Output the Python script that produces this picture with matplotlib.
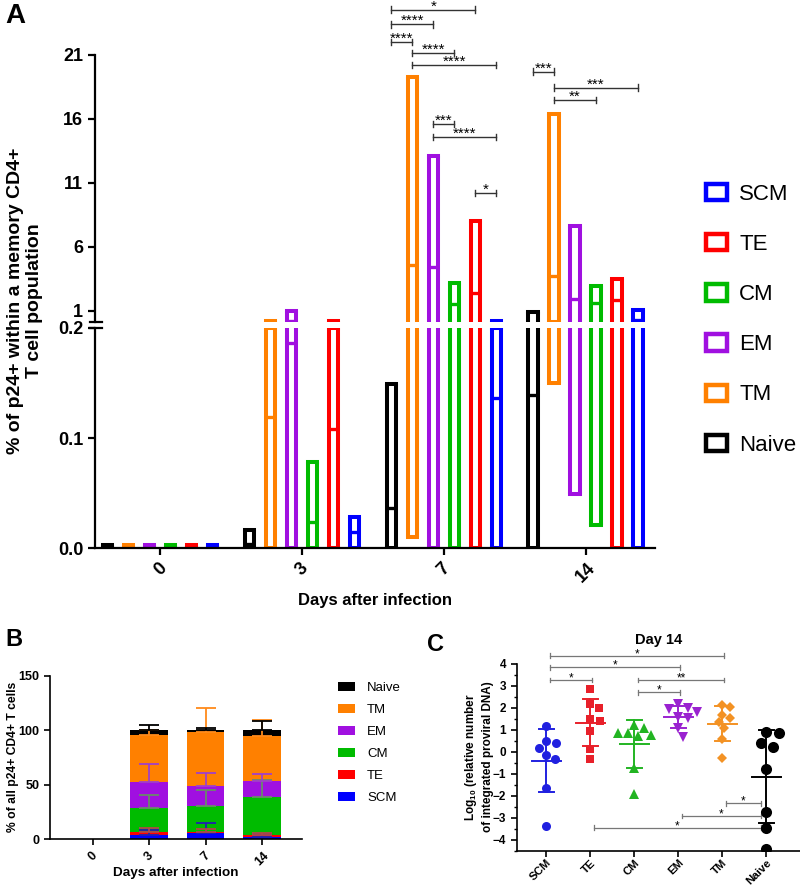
import numpy as np
import matplotlib
matplotlib.use('Agg')
import matplotlib.pyplot as plt
from matplotlib.patches import Patch

plt.rcParams['font.family'] = ['Liberation Sans', 'DejaVu Sans']
plt.rcParams['font.weight'] = 'bold'
plt.rcParams['axes.labelweight'] = 'bold'
plt.rcParams['mathtext.fontset'] = 'custom'
plt.rcParams['mathtext.rm'] = 'Liberation Sans'
plt.rcParams['mathtext.bf'] = 'Liberation Sans:bold'

# ------------------------------------------------------------------ data
days = ['0', '3', '7', '14']
subsets = ['Naive', 'TM', 'EM', 'CM', 'TE', 'SCM']
legend_A = ['SCM', 'TE', 'CM', 'EM', 'TM', 'Naive']

# Panel A: floating bars (min to max) with line at mean, per day
naive_min = [0, 0, 0, 0]
naive_max = [0.003, 0.016, 0.149, 0.9]
naive_mean = [0.0015, 0.004, 0.036, 0.139]
tm_min = [0, 0, 0.010, 0.150]
tm_max = [0.003, 0.2, 19.3, 16.4]
tm_mean = [0.0015, 0.119, 4.6, 3.7]
em_min = [0, 0, 0, 0.049]
em_max = [0.003, 0.95, 13.1, 7.6]
em_mean = [0.0015, 0.186, 4.4, 1.9]
cm_min = [0, 0, 0, 0.021]
cm_max = [0.003, 0.078, 3.2, 2.95]
cm_mean = [0.0015, 0.024, 1.5, 1.6]
te_min = [0, 0, 0, 0]
te_max = [0.003, 0.2, 8.0, 3.45]
te_mean = [0.0015, 0.108, 2.4, 1.85]
scm_min = [0, 0, 0, 0]
scm_max = [0.003, 0.028, 0.2, 1.05]
scm_mean = [0.0015, 0.0145, 0.136, 0.3]

# significance brackets panel A: (day index, subset a, subset b, level, label)
sig_A = [
    (2, 'Naive', 'TE', 24.55, '*'),
    (2, 'Naive', 'EM', 23.4, '****'),
    (2, 'Naive', 'TM', 22.0, '****'),
    (2, 'TM', 'CM', 21.16, '****'),
    (2, 'TM', 'SCM', 20.2, '****'),
    (2, 'EM', 'CM', 15.6, '***'),
    (2, 'EM', 'SCM', 14.6, '****'),
    (2, 'TE', 'SCM', 10.2, '*'),
    (3, 'Naive', 'TM', 19.7, '***'),
    (3, 'TM', 'SCM', 18.45, '***'),
    (3, 'TM', 'CM', 17.46, '**'),
]

# Panel B: stacked composition (% of all p24+ CD4+ T cells)
b_stack = ['SCM', 'TE', 'CM', 'EM', 'TM', 'Naive']
b_scm = [0, 3.7, 5.5, 1.8]
b_te = [0, 3.3, 1.5, 1.9]
b_cm = [0, 21.6, 23.8, 34.8]
b_em = [0, 23.7, 18.4, 15.3]
b_tm = [0, 43.1, 49.3, 41.0]
b_naive = [0, 4.6, 1.5, 5.2]
b_scm_err = [0, 4.9, 9.3, 2.8]
b_te_err = [0, 3.8, 2.2, 2.5]
b_cm_err = [0, 11.7, 14.2, 16.0]
b_em_err = [0, 16.6, 11.4, 6.5]
b_tm_err = [0, 4.9, 22.5, 15.2]
b_naive_err = [0, 4.6, 2.5, 8.6]

# Panel C: log10 relative integrated proviral DNA, day 14
c_groups = ['SCM', 'TE', 'CM', 'EM', 'TM', 'Naive']
c_scm = [1.17, 0.50, 0.41, 0.18, -0.15, -0.35, -1.65, -3.36]
c_te = [2.83, 2.15, 2.00, 1.48, 1.41, 0.95, 0.11, -0.35]
c_cm = [1.23, 1.08, 0.86, 0.86, 0.77, 0.70, -0.76, -1.92]
c_em = [2.15, 2.00, 1.92, 1.80, 1.56, 1.52, 1.06, 0.65]
c_tm = [2.12, 2.05, 1.67, 1.55, 1.36, 1.09, 0.58, -0.27]
c_naive = [0.91, 0.83, 0.41, 0.23, -0.80, -2.76, -3.48, -4.44]
# brackets panel C: (group a, group b, level, label)
sig_C = [
    (0, 4, 4.37, '*'),
    (0, 3, 3.83, '*'),
    (0, 1, 3.26, '*'),
    (2, 4, 3.26, '**'),
    (2, 3, 2.70, '*'),
    (4, 5, -2.35, '*'),
    (3, 5, -2.92, '*'),
    (1, 5, -3.45, '*'),
]

# ------------------------------------------------------------------ styles
colA = {'Naive': '#000000', 'TM': '#FF8000', 'EM': '#A010E0',
        'CM': '#00BB00', 'TE': '#FF0000', 'SCM': '#0000FF'}
errB = {'Naive': '#000000', 'TM': '#FF8A1A', 'EM': '#A040C8',
        'CM': '#6A8A6A', 'TE': '#B04848', 'SCM': '#2020B0'}
colC = {'SCM': '#2020E0', 'TE': '#E8202A', 'CM': '#22B422',
        'EM': '#9A22D0', 'TM': '#F39224', 'Naive': '#000000'}
markC = {'SCM': 'o', 'TE': 's', 'CM': '^', 'EM': 'v', 'TM': 'D', 'Naive': 'o'}
msC = {'SCM': 6.5, 'TE': 6, 'CM': 6.5, 'EM': 6.5, 'TM': 5, 'Naive': 8}

W, H = 800, 888
fig = plt.figure(figsize=(W / 100, H / 100), dpi=100)


def fa(x0, y0, x1, y1):
    return [x0 / W, 1 - y1 / H, (x1 - x0) / W, (y1 - y0) / H]


# ------------------------------------------------------------------ panel A
axT = fig.add_axes(fa(95, 55, 655, 321.6))
axB = fig.add_axes(fa(95, 328, 655, 548))

A_min = dict(Naive=naive_min, TM=tm_min, EM=em_min, CM=cm_min, TE=te_min, SCM=scm_min)
A_max = dict(Naive=naive_max, TM=tm_max, EM=em_max, CM=cm_max, TE=te_max, SCM=scm_max)
A_mean = dict(Naive=naive_mean, TM=tm_mean, EM=em_mean, CM=cm_mean, TE=te_mean, SCM=scm_mean)

pitch = 0.148
bw = 0.066
LW = 2.9
xg = np.arange(len(days))


def xpos(i, s):
    return xg[i] + (subsets.index(s) - 2.5) * pitch


def draw_float_bars(ax, lo, hi):
    margin = (hi - lo) * 0.05
    for s in subsets:
        c = colA[s]
        for i in range(len(days)):
            x = xpos(i, s)
            mn, mx, mu = A_min[s][i], A_max[s][i], A_mean[s][i]
            if mx < lo or mn > hi:
                continue
            y0 = mn if mn >= lo else lo - margin
            y1 = mx if mx <= hi else hi + margin
            ax.vlines([x - bw / 2, x + bw / 2], y0, y1, colors=c, lw=LW,
                      capstyle='butt')
            for v in (mn, mx):
                if lo <= v <= hi:
                    ax.hlines(v, x - bw / 2, x + bw / 2, colors=c, lw=LW,
                              capstyle='projecting')
            if lo <= mu <= hi:
                ax.hlines(mu, x - bw / 2, x + bw / 2, colors=c, lw=2.4,
                          capstyle='butt')


for ax, (lo, hi) in ((axT, (0.15, 21)), (axB, (0, 0.2))):
    draw_float_bars(ax, lo, hi)
    ax.set_ylim(lo, hi)
    ax.set_xlim(-0.46, 3.49)
    ax.spines['right'].set_visible(False)
    ax.spines['top'].set_visible(False)
    ax.spines['left'].set_linewidth(1.6)
    ax.spines['bottom'].set_linewidth(1.6)
    ax.tick_params(axis='both', labelsize=13, width=1.6, length=5)

axT.set_yticks([1, 6, 11, 16, 21])
axT.spines['bottom'].set_visible(False)
axT.set_xticks([])
axB.set_yticks([0, 0.1, 0.2])
axB.set_yticklabels(['0.0', '0.1', '0.2'])
axB.set_xticks(xg)
axB.set_xticklabels(days, rotation=45)

# axis break marks
axT.plot([-0.009, 0.012], [0, 0], transform=axT.transAxes, color='k', lw=1.6, clip_on=False)
axB.plot([-0.009, 0.012], [1, 1], transform=axB.transAxes, color='k', lw=1.6, clip_on=False)

for (i, a, b, lev, lab) in sig_A:
    x1, x2 = xpos(i, a), xpos(i, b)
    axT.plot([x1, x2], [lev, lev], color='#333333', lw=1.0, clip_on=False)
    for xx in (x1, x2):
        axT.plot([xx, xx], [lev - 0.25, lev + 0.25], color='#333333', lw=1.0, clip_on=False)
    axT.annotate(lab, xy=((x1 + x2) / 2, lev), xytext=(0, -0.6),
                 textcoords='offset points', ha='center', va='baseline',
                 fontsize=11, fontweight='normal', annotation_clip=False)

fig.text(5 / W, 1 - 3 / H, 'A', fontsize=20, fontweight='bold', va='top', ha='left')
fig.text(25 / W, 1 - 301 / H, '% of p24+ within a memory CD4+\nT cell population',
         rotation=90, ha='center', va='center', fontsize=14, fontweight='bold',
         linespacing=1.15)
fig.text(375 / W, 1 - 600 / H, 'Days after infection', ha='center', va='center',
         fontsize=12, fontweight='bold')

handlesA = [Patch(facecolor='white', edgecolor=colA[s], linewidth=3.2) for s in legend_A]
fig.legend(handlesA, legend_A, loc='upper left', bbox_to_anchor=(706 / W, 1 - 184 / H),
           frameon=False, prop={'size': 16, 'weight': 'normal'},
           handlelength=0.95, handleheight=0.75, labelspacing=1.31,
           handletextpad=0.55, borderpad=0, borderaxespad=0)

# ------------------------------------------------------------------ panel B
axBB = fig.add_axes(fa(50, 676, 302, 839.3))
B_vals = dict(SCM=b_scm, TE=b_te, CM=b_cm, EM=b_em, TM=b_tm, Naive=b_naive)
B_err = dict(SCM=b_scm_err, TE=b_te_err, CM=b_cm_err, EM=b_em_err, TM=b_tm_err, Naive=b_naive_err)
xb = np.arange(len(days))
bottom = np.zeros(len(days))
tops = {}
bars_handles = {}
for s in b_stack:
    v = np.array(B_vals[s], dtype=float)
    h = axBB.bar(xb, v, bottom=bottom, width=0.67, color=colA[s], linewidth=0)
    bars_handles[s] = h
    bottom = bottom + v
    tops[s] = bottom.copy()
for s in b_stack:
    e = np.array(B_err[s], dtype=float)
    m = e > 0
    axBB.errorbar(xb[m], tops[s][m], yerr=[np.zeros(m.sum()), e[m]], fmt='none',
                  ecolor=errB[s], elinewidth=1.3, capsize=7, capthick=1.3, zorder=5)
axBB.set_xlim(-0.76, 3.71)
axBB.set_ylim(0, 150)
axBB.set_yticks([0, 50, 100, 150])
axBB.set_xticks(xb)
axBB.set_xticklabels(days, rotation=45)
axBB.spines['right'].set_visible(False)
axBB.spines['top'].set_visible(False)
for sp in ('left', 'bottom'):
    axBB.spines[sp].set_linewidth(1.2)
axBB.tick_params(labelsize=9, width=1.2, length=4)
order_leg = ['Naive', 'TM', 'EM', 'CM', 'TE', 'SCM']
axBB.legend([bars_handles[s] for s in order_leg], order_leg, loc='upper left',
            bbox_to_anchor=(338 / W, 1 - 682 / H), bbox_transform=fig.transFigure,
            frameon=False, prop={'size': 9.5, 'weight': 'normal'},
            handlelength=1.3, handleheight=0.7, labelspacing=0.74,
            handletextpad=0.9, borderpad=0, borderaxespad=0)
fig.text(5 / W, 1 - 628 / H, 'B', fontsize=17, fontweight='bold', va='top', ha='left')
fig.text(13 / W, 1 - 757 / H, '% of all p24+ CD4+ T cells', rotation=90,
         ha='center', va='center', fontsize=8.7, fontweight='bold')
fig.text(176 / W, 1 - 873 / H, 'Days after infection', ha='center', va='center',
         fontsize=9.7, fontweight='bold')

# ------------------------------------------------------------------ panel C
axC = fig.add_axes(fa(516.7, 663.7, 800, 850.7))
C_vals = dict(SCM=c_scm, TE=c_te, CM=c_cm, EM=c_em, TM=c_tm, Naive=c_naive)
xs_px, ys_px = 44.0, 22.0


def swarm(vals, d_px):
    vals = np.asarray(vals, dtype=float)
    order = np.argsort(-vals)
    placed = []
    offs = np.zeros(len(vals))
    for idx in order:
        y = vals[idx] * ys_px
        chosen = 0.0
        for k in range(0, 400):
            cands = [0.0] if k == 0 else [k * 0.5, -k * 0.5]
            found = None
            for c in cands:
                if all((c - px) ** 2 + (y - py) ** 2 >= d_px ** 2 for px, py in placed):
                    found = c
                    break
            if found is not None:
                chosen = found
                break
        placed.append((chosen, y))
        offs[idx] = chosen / xs_px
    return offs


for i, g in enumerate(c_groups):
    v = np.array(C_vals[g], dtype=float)
    off = swarm(v, msC[g] * 1.39 * 1.1)
    axC.plot(i + off, v, linestyle='none', marker=markC[g], color=colC[g],
             markersize=msC[g], markeredgewidth=0, zorder=3)
    mu = v.mean()
    sd = v.std(ddof=1)
    axC.plot([i, i], [mu - sd, mu + sd], color=colC[g], lw=1.4, zorder=4)
    axC.plot([i - 0.17, i + 0.17], [mu + sd, mu + sd], color=colC[g], lw=1.4, zorder=4)
    axC.plot([i - 0.17, i + 0.17], [mu - sd, mu - sd], color=colC[g], lw=1.4, zorder=4)
    axC.plot([i - 0.33, i + 0.33], [mu, mu], color=colC[g], lw=1.4, zorder=4)

for (a, b, lev, lab) in sig_C:
    x1 = a + 0.08
    x2 = b - 0.12 if b == 5 else b + 0.05
    axC.plot([x1, x2], [lev, lev], color='#777777', lw=0.9, clip_on=False)
    for xx in (x1, x2):
        axC.plot([xx, xx], [lev - 0.1, lev + 0.1], color='#777777', lw=0.9, clip_on=False)
    axC.annotate(lab, xy=((x1 + x2) / 2, lev), xytext=(0, -1.0),
                 textcoords='offset points', ha='center', va='baseline',
                 fontsize=8.5, fontweight='normal', annotation_clip=False)

axC.set_xlim(-0.67, 5.77)
axC.set_ylim(-4.5, 4)
axC.set_yticks(np.arange(-4, 5, 1))
axC.set_yticks(np.arange(-4.5, 4.01, 0.5), minor=True)
axC.set_xticks(np.arange(len(c_groups)))
axC.set_xticklabels(c_groups, rotation=45, ha='right', rotation_mode='anchor')
axC.spines['right'].set_visible(False)
axC.spines['top'].set_visible(False)
for sp in ('left', 'bottom'):
    axC.spines[sp].set_linewidth(1.2)
axC.tick_params(labelsize=8.5, width=1.2, length=4)
axC.tick_params(axis='x', labelsize=8.2, pad=1)
axC.tick_params(which='minor', width=1.0, length=2.5)
axC.set_title('Day 14', fontsize=10.5, fontweight='bold', pad=14)
fig.text(427 / W, 1 - 633 / H, 'C', fontsize=17, fontweight='bold', va='top', ha='left')
fig.text(478.5 / W, 1 - 757 / H,
         'Log$_{\\mathbf{10}}$ (relative number\nof integrated proviral DNA)',
         rotation=90, ha='center', va='center', fontsize=8.5, fontweight='bold',
         linespacing=1.25)

fig.savefig('out.png', dpi=100)
